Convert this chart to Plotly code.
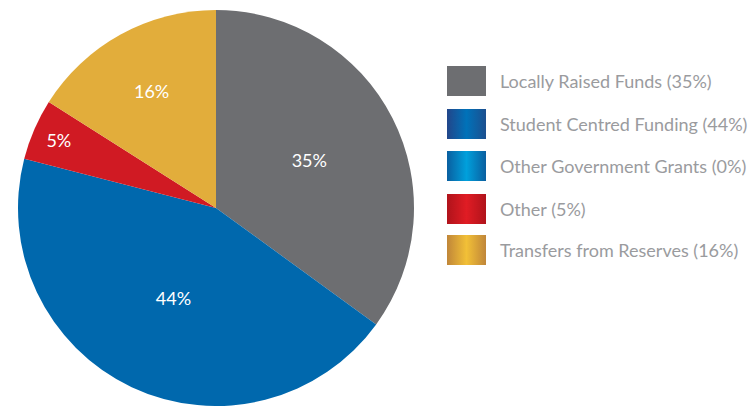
import plotly.graph_objects as go

labels = ["Locally Raised Funds", "Student Centred Funding", "Other Government Grants", "Other", "Transfers from Reserves"]
values = [35, 44, 0, 5, 16]
slice_colors = ["#6d6e71", "#0068ad", "#0090d0", "#d01a23", "#e2ad3b"]
grad_scales = [
    [[0, "#6d6e71"], [1, "#6d6e71"]],
    [[0, "#22468a"], [0.5, "#0072b9"], [1, "#1c4f8f"]],
    [[0, "#0a5fa0"], [0.5, "#00a0dc"], [1, "#0a5fa0"]],
    [[0, "#b0131b"], [0.5, "#e01c24"], [1, "#b0131b"]],
    [[0, "#c08639"], [0.5, "#f2c037"], [1, "#c08639"]],
]

W, H = 753, 406
fig = go.Figure()

fig.add_trace(go.Pie(
    labels=labels, values=values, sort=False, direction="clockwise", rotation=0,
    marker=dict(colors=slice_colors, line=dict(width=0)),
    text=[f"{v}%" if v > 0 else "" for v in values],
    textinfo="text", textposition="inside", insidetextorientation="horizontal",
    textfont=dict(family="Lato", size=18, color="white"),
    domain=dict(x=[16 / W, 416 / W], y=[0, (H - 10) / H]),
    showlegend=False, hoverinfo="label+percent",
))

# Custom legend with large gradient swatches
sw_x0, sw_x1 = 447, 486
row_y = [81, 124, 166, 209, 250]
half = 15
for i, (lab, v) in enumerate(zip(labels, values)):
    y0, y1 = row_y[i] - half, row_y[i] + half
    fig.add_trace(go.Scatter(
        x=[sw_x0, sw_x1, sw_x1, sw_x0, sw_x0], y=[y0, y0, y1, y1, y0],
        mode="lines", line=dict(width=0), fill="toself",
        fillgradient=dict(type="horizontal", colorscale=grad_scales[i]),
        fillcolor=slice_colors[i],
        xaxis="x", yaxis="y", showlegend=False, hoverinfo="skip",
    ))
    fig.add_annotation(
        x=498, y=row_y[i], xref="x", yref="y", text=f"{lab} ({v}%)",
        showarrow=False, xanchor="left", yanchor="middle",
        font=dict(family="Lato", size=18, color="#9a9b9e"),
    )

fig.update_layout(
    width=W, height=H, margin=dict(l=0, r=0, t=0, b=0),
    paper_bgcolor="white", plot_bgcolor="rgba(0,0,0,0)",
    xaxis=dict(range=[0, W], visible=False, domain=[0, 1], fixedrange=True),
    yaxis=dict(range=[H, 0], visible=False, domain=[0, 1], fixedrange=True),
    showlegend=False,
)

fig.write_html("out.html", config={"displayModeBar": False},
               post_script="document.body.style.margin='0';document.body.style.overflow='hidden';")
